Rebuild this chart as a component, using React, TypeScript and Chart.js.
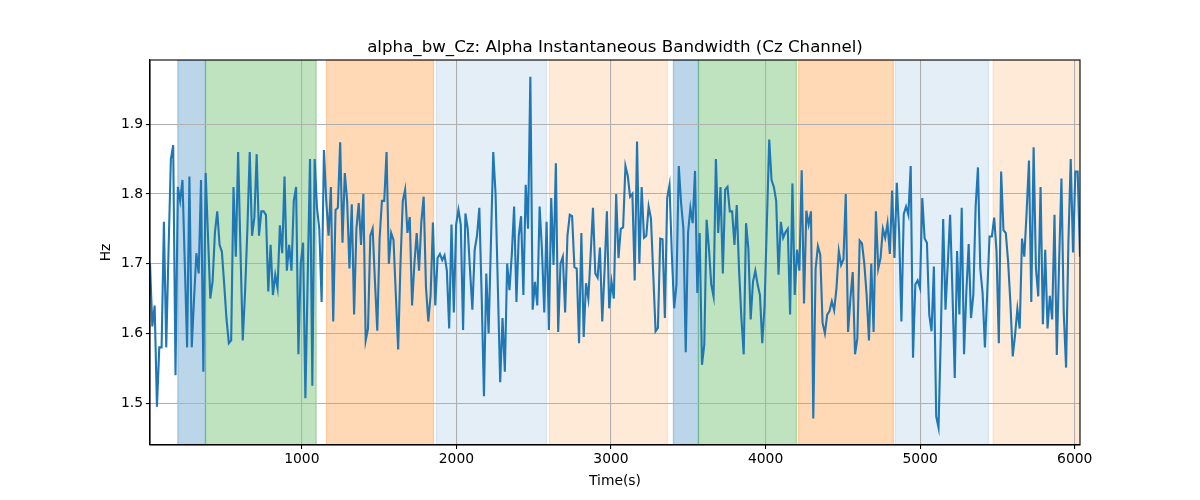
import React, { useEffect, useRef } from "react";
import { Chart, registerables } from "chart.js";

Chart.register(...registerables);

// ---- Data ----
const TITLE = "alpha_bw_Cz: Alpha Instantaneous Bandwidth (Cz Channel)";
const X_LABEL = "Time(s)";
const Y_LABEL = "Hz";

const T_START = 18;
const T_END = 6034;
const Y_MIN = 1.44;
const Y_MAX = 1.992;

const X_TICKS = [1000, 2000, 3000, 4000, 5000, 6000];
const Y_TICKS = [1.5, 1.6, 1.7, 1.8, 1.9];

const SEG1 = [
  1.70, 1.61, 1.64, 1.495, 1.58, 1.58, 1.76, 1.58, 1.72, 1.85,
  1.87, 1.54, 1.81, 1.79, 1.82, 1.70, 1.58, 1.825, 1.58, 1.65,
  1.715, 1.686, 1.82, 1.545, 1.83, 1.74, 1.65, 1.675, 1.745, 1.775,
  1.727, 1.717, 1.67, 1.62, 1.586, 1.59, 1.81, 1.71, 1.86, 1.72,
  1.59, 1.66, 1.75, 1.86, 1.74, 1.766, 1.857, 1.74, 1.775, 1.775,
  1.77, 1.66, 1.727, 1.655, 1.684, 1.665, 1.755, 1.715, 1.825, 1.69,
  1.727, 1.69, 1.79, 1.81, 1.57, 1.70, 1.73, 1.507, 1.68, 1.85,
];
const SEG2 = [
  1.525, 1.85, 1.78, 1.75, 1.645, 1.863, 1.79, 1.74, 1.81, 1.617,
  1.777, 1.78, 1.874, 1.73, 1.83, 1.79, 1.693, 1.785, 1.627, 1.75,
  1.787, 1.727, 1.80, 1.59, 1.607, 1.74, 1.75, 1.674, 1.604, 1.736,
  1.79, 1.79, 1.86, 1.70, 1.744, 1.734, 1.655, 1.577, 1.70, 1.79,
  1.806, 1.744, 1.767, 1.64, 1.70, 1.744, 1.69, 1.76, 1.796, 1.666,
  1.617, 1.655, 1.759, 1.64, 1.708, 1.714, 1.705, 1.712, 1.69, 1.607,
  1.756, 1.63, 1.756, 1.777, 1.756, 1.605,
];
const SEG3 = [
  1.772, 1.75, 1.69, 1.634, 1.72, 1.74, 1.78, 1.655, 1.51, 1.686,
  1.60, 1.73, 1.86, 1.80, 1.665, 1.53, 1.622, 1.545, 1.70, 1.662,
  1.713, 1.782, 1.645, 1.74, 1.768, 1.655, 1.813, 1.75, 1.968, 1.634,
  1.674, 1.64, 1.782, 1.72, 1.63, 1.76, 1.605, 1.794, 1.698, 1.844,
  1.602, 1.70, 1.71, 1.63, 1.74, 1.77, 1.768, 1.695, 1.693, 1.586,
  1.744, 1.595, 1.672, 1.65, 1.713, 1.78, 1.686, 1.68, 1.723, 1.617,
  1.69, 1.775, 1.636, 1.674, 1.65, 1.80, 1.708,
];
const SEG4 = [
  1.75, 1.752, 1.84, 1.826, 1.796, 1.80, 1.676, 1.875, 1.70, 1.81,
  1.737, 1.74, 1.782, 1.765, 1.684, 1.603, 1.608, 1.736, 1.735, 1.622,
  1.794, 1.813, 1.713, 1.636, 1.67, 1.84, 1.787, 1.75, 1.573, 1.744,
  1.78, 1.758, 1.833, 1.658, 1.744, 1.555, 1.584, 1.763, 1.722, 1.67,
  1.653, 1.85, 1.744, 1.81, 1.686, 1.806, 1.81, 1.775, 1.775, 1.727,
  1.784, 1.69, 1.622, 1.57, 1.758, 1.722, 1.62, 1.674, 1.69, 1.67,
  1.655, 1.586, 1.64, 1.76, 1.878, 1.82, 1.81,
];
const SEG5 = [
  1.79, 1.684, 1.76, 1.737, 1.745, 1.75, 1.627, 1.815, 1.655, 1.72,
  1.69, 1.834, 1.643, 1.776, 1.756, 1.775, 1.478, 1.693, 1.725, 1.713,
  1.615, 1.60, 1.627, 1.632, 1.646, 1.633, 1.665, 1.718, 1.698, 1.706,
  1.80, 1.602, 1.65, 1.688, 1.57, 1.593, 1.733, 1.729, 1.70, 1.655,
  1.59, 1.70, 1.602, 1.775, 1.693, 1.708, 1.75, 1.737, 1.758, 1.714,
  1.805, 1.708, 1.816, 1.746, 1.617, 1.771, 1.782, 1.77, 1.84, 1.565,
  1.67, 1.676, 1.665, 1.794, 1.736, 1.73,
];
const SEG6 = [
  1.627, 1.603, 1.696, 1.481, 1.465, 1.598, 1.764, 1.634, 1.70, 1.77,
  1.66, 1.536, 1.718, 1.627, 1.78, 1.57, 1.66, 1.728, 1.622, 1.655,
  1.782, 1.838, 1.693, 1.658, 1.58, 1.658, 1.739, 1.739, 1.766, 1.718,
  1.586, 1.832, 1.748, 1.744, 1.703, 1.643, 1.567, 1.598, 1.635, 1.607,
  1.736, 1.71, 1.775, 1.848, 1.645, 1.867, 1.693, 1.653, 1.81, 1.613,
  1.72, 1.607, 1.654, 1.62, 1.77, 1.569, 1.703, 1.822, 1.629, 1.551,
  1.731, 1.85, 1.716, 1.832, 1.832, 1.71,
];

const VALUES = [...SEG1, ...SEG2, ...SEG3, ...SEG4, ...SEG5, ...SEG6];

// Shaded phases (time ranges) and their kind
const REGION_STARTS = [198, 377, 1160, 1871, 2602, 3404, 3566, 4213, 4840, 5472];
const REGION_ENDS = [377, 1093, 1852, 2583, 3365, 3566, 4200, 4827, 5442, 6034];
const REGION_KINDS = ["blue", "green", "orange", "lightblue", "lightorange", "blue", "green", "orange", "lightblue", "lightorange"];

const REGION_COLORS: Record<string, string> = {
  blue: "rgba(31,119,180,0.3)",
  green: "rgba(44,160,44,0.3)",
  orange: "rgba(255,127,14,0.3)",
  lightblue: "rgba(31,119,180,0.12)",
  lightorange: "rgba(255,127,14,0.16)",
};

const FONT = "'DejaVu Sans', sans-serif";

export default function App() {
  const ref = useRef<HTMLCanvasElement | null>(null);

  useEffect(() => {
    document.body.style.margin = "0";
    const canvas = ref.current;
    if (!canvas) return;

    const step = (T_END - T_START) / (VALUES.length - 1);
    const points = VALUES.map((v, i) => ({ x: T_START + i * step, y: v }));

    const decor = {
      id: "decor",
      beforeDraw(chart: any) {
        const { ctx, chartArea } = chart;
        const xs = chart.scales.x;
        ctx.save();
        ctx.fillStyle = "#ffffff";
        ctx.fillRect(0, 0, chart.width, chart.height);
        ctx.beginPath();
        ctx.rect(chartArea.left, chartArea.top, chartArea.right - chartArea.left, chartArea.bottom - chartArea.top);
        ctx.clip();
        for (let i = 0; i < REGION_STARTS.length; i++) {
          const x1 = xs.getPixelForValue(REGION_STARTS[i]);
          const x2 = xs.getPixelForValue(REGION_ENDS[i]);
          const col = REGION_COLORS[REGION_KINDS[i]];
          ctx.fillStyle = col;
          ctx.fillRect(x1, chartArea.top, x2 - x1, chartArea.bottom - chartArea.top);
          ctx.strokeStyle = col;
          ctx.lineWidth = 1.3;
          ctx.strokeRect(x1, chartArea.top, x2 - x1, chartArea.bottom - chartArea.top);
        }
        ctx.restore();
      },
      afterDraw(chart: any) {
        const { ctx, chartArea } = chart;
        ctx.save();
        // frame
        ctx.strokeStyle = "#000";
        ctx.lineWidth = 1.1;
        ctx.strokeRect(chartArea.left, chartArea.top, chartArea.right - chartArea.left, chartArea.bottom - chartArea.top);
        // title
        ctx.fillStyle = "#000";
        ctx.font = `16.67px ${FONT}`;
        ctx.textAlign = "center";
        ctx.textBaseline = "alphabetic";
        const cx = (chartArea.left + chartArea.right) / 2;
        ctx.fillText(TITLE, cx, chartArea.top - 8.5);
        // axis titles
        ctx.font = `13.89px ${FONT}`;
        ctx.textBaseline = "middle";
        ctx.fillText(X_LABEL, cx, 481);
        ctx.translate(106, (chartArea.top + chartArea.bottom) / 2);
        ctx.rotate(-Math.PI / 2);
        ctx.fillText(Y_LABEL, 0, 0);
        ctx.restore();
      },
    };

    const chart = new Chart(canvas, {
      type: "line",
      data: {
        datasets: [
          {
            data: points,
            borderColor: "#1f77b4",
            borderWidth: 2.1,
            pointRadius: 0,
            tension: 0,
            fill: false,
          },
        ],
      },
      options: {
        animation: false,
        responsive: false,
        devicePixelRatio: 1,
        parsing: false as any,
        normalized: true,
        layout: { padding: { left: 0, right: 120, top: 60, bottom: 0 } },
        plugins: {
          legend: { display: false },
          tooltip: { enabled: false },
          title: { display: false },
        },
        scales: {
          x: {
            type: "linear",
            min: T_START,
            max: T_END,
            afterFit: (s: any) => {
              s.height = 55;
            },
            afterBuildTicks: (s: any) => {
              s.ticks = X_TICKS.map((v) => ({ value: v }));
            },
            ticks: {
              color: "#000",
              font: { family: FONT, size: 13.89 },
              padding: 2,
              maxRotation: 0,
              autoSkip: false,
              callback: (v: any) => String(v),
            },
            grid: {
              color: "#b0b0b0",
              lineWidth: 1.1,
              tickColor: "#000",
              tickLength: 4,
              tickWidth: 1.1,
              drawTicks: true,
            },
            border: { display: true, color: "#000", width: 1.1 },
          },
          y: {
            type: "linear",
            min: Y_MIN,
            max: Y_MAX,
            afterFit: (s: any) => {
              s.width = 150;
            },
            afterBuildTicks: (s: any) => {
              s.ticks = Y_TICKS.map((v) => ({ value: v }));
            },
            ticks: {
              color: "#000",
              font: { family: FONT, size: 13.89 },
              padding: 3,
              autoSkip: false,
              callback: (v: any) => Number(v).toFixed(1),
            },
            grid: {
              color: "#b0b0b0",
              lineWidth: 1.1,
              tickColor: "#000",
              tickLength: 4,
              tickWidth: 1.1,
              drawTicks: true,
            },
            border: { display: true, color: "#000", width: 1.1 },
          },
        },
      },
      plugins: [decor],
    });

    return () => {
      chart.destroy();
    };
  }, []);

  return (
    <canvas
      ref={ref}
      width={1200}
      height={500}
      style={{ display: "block", position: "absolute", left: 0, top: 0, width: 1200, height: 500 }}
    />
  );
}
